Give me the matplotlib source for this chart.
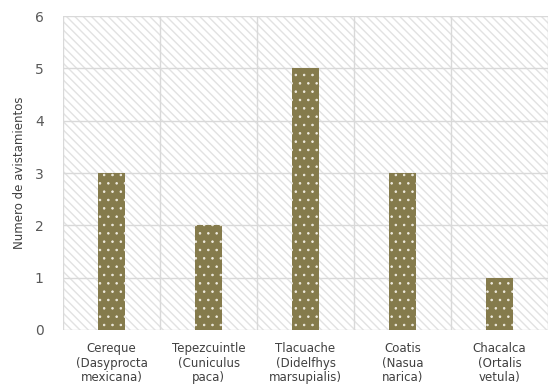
import numpy as np
import matplotlib
matplotlib.use("Agg")
from matplotlib import pyplot as plt
from matplotlib.patches import Rectangle

categories = ["Cereque\n(Dasyprocta\nmexicana)", "Tepezcuintle\n(Cuniculus\npaca)",
              "Tlacuache\n(Didelfhys\nmarsupialis)", "Coatis\n(Nasua\nnarica)",
              "Chacalca\n(Ortalis\nvetula)"]
values = [3, 2, 5, 3, 1]
yticks = [0, 1, 2, 3, 4, 5, 6]

plt.rcParams["font.family"] = ["DejaVu Sans"]
plt.rcParams["hatch.linewidth"] = 1.0

fig = plt.figure(figsize=(5.49, 3.85), dpi=100)
ax = fig.add_axes([0.115, 0.143, 0.883, 0.815])

x = np.arange(len(categories))
ax.set_xlim(-0.5, len(categories) - 0.5)
ax.set_ylim(0, 6)

# hatched plot background
ax.add_patch(Rectangle((0, 0), 1, 1, transform=ax.transAxes, facecolor="white",
                       edgecolor="#e2e2e2", hatch="\\\\\\\\", linewidth=0, zorder=0))

for y in yticks:
    ax.axhline(y, color="#d9d9d9", linewidth=1, zorder=1)
for b in np.arange(-0.5, len(categories), 1):
    ax.axvline(b, color="#d9d9d9", linewidth=1, zorder=1)

ax.bar(x, values, width=0.28, color="#857b4c", linewidth=0, zorder=2)
plt.rcParams["hatch.linewidth"] = 0.6
ax.bar(x, values, width=0.28, facecolor="none", edgecolor="#f0ece0", hatch="..",
       linewidth=0, zorder=3)

for s in ax.spines.values():
    s.set_visible(False)

ax.set_yticks(yticks)
ax.set_xticks(x)
ax.set_xticklabels(categories, fontsize=8.5, color="#404040", linespacing=1.15)
ax.tick_params(axis="both", length=0, pad=9)
ax.tick_params(axis="y", labelsize=10, labelcolor="#595959", pad=14)
ax.set_ylabel("Numero de avistamientos", fontsize=8.5, color="#404040", labelpad=6)

plt.savefig("out.png", dpi=100)
